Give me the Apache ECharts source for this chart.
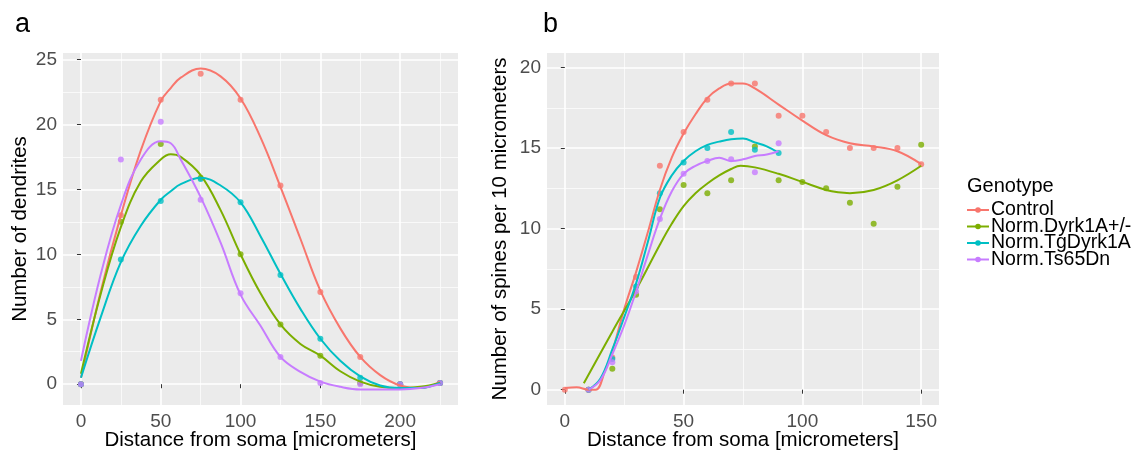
<!DOCTYPE html>
<html><head><meta charset="utf-8">
<script src="https://cdn.jsdelivr.net/npm/echarts@6/dist/echarts.min.js"></script>
<style>html,body{margin:0;padding:0;background:#fff}#c{width:1146px;height:453px}</style>
</head><body><div id="c"></div><script>
// ---------- shared ----------
const genotypes = ['Control', 'Norm.Dyrk1A+/-', 'Norm.TgDyrk1A', 'Norm.Ts65Dn'];
const colors = ['#F8766D', '#7CAE00', '#00BFC4', '#C77CFF'];

// ---------- panel a: number of dendrites ----------
const aPointX = [0, 25, 50, 75, 100, 125, 150, 175, 200, 225];
const aPtsControl = [0, 13.0, 21.9, 23.9, 21.9, 15.3, 7.1, 2.1, 0, 0.1];
const aPtsDyrk = [0, 12.5, 18.5, 15.9, 10.0, 4.6, 2.2, 0.1, 0, 0.1];
const aPtsTg = [0, 9.6, 14.1, 15.8, 14.0, 8.4, 3.5, 0.5, 0, 0.1];
const aPtsTs = [0, 17.3, 20.2, 14.2, 7.0, 2.1, 0.1, 0, 0, 0.1];

const aCurveX = [0, 12.5, 25, 37.5, 50, 56.25, 62.5, 75, 87.5, 100, 112.5, 125, 137.5, 150, 162.5, 175, 187.5, 200, 212.5, 225];
const aCurveControl = [0.5, 7.2, 13.0, 18.0, 21.8, 22.8, 23.6, 24.3, 23.7, 22.0, 19.0, 15.2, 11.2, 7.2, 4.3, 2.1, 0.7, -0.1, -0.3, 0.2];
const aCurveDyrk = [0.8, 7.0, 12.1, 15.6, 17.3, 17.7, 17.5, 16.1, 13.4, 10.0, 7.0, 4.6, 3.1, 2.2, 1.0, 0.2, -0.2, -0.3, -0.2, 0.1];
const aCurveTg = [0.5, 5.2, 9.4, 12.2, 14.2, 14.85, 15.4, 15.9, 15.3, 14.0, 11.4, 8.5, 5.8, 3.5, 1.8, 0.6, -0.1, -0.3, -0.3, 0.1];
const aCurveTs = [1.8, 8.5, 13.8, 17.3, 18.7, 18.55, 17.3, 14.4, 10.9, 6.9, 4.5, 2.1, 0.95, 0.2, -0.2, -0.4, -0.4, -0.4, -0.3, 0.0];

const aXTicks = [0, 50, 100, 150, 200];
const aXMinor = [25, 75, 125, 175, 225];
const aYTicks = [0, 5, 10, 15, 20, 25];
const aYMinor = [2.5, 7.5, 12.5, 17.5, 22.5];

// ---------- panel b: spines per 10 micrometers ----------
const bPointXControl = [0, 10, 20, 30, 40, 50, 60, 70, 80, 90, 100, 110, 120, 130, 140, 150];
const bPtsControl = [0, 0, 2.0, 7.0, 13.9, 16.0, 18.0, 19.0, 19.0, 17.0, 17.0, 16.0, 15.0, 15.0, 15.0, 14.0];
const bPointXDyrk = [10, 20, 30, 40, 50, 60, 70, 80, 90, 100, 110, 120, 130, 140, 150];
const bPtsDyrk = [0, 1.3, 5.9, 11.2, 12.7, 12.2, 13.0, 15.1, 13.0, 12.9, 12.5, 11.6, 10.3, 12.6, 15.2];
const bPointXShort = [10, 20, 30, 40, 50, 60, 70, 80, 90];
const bPtsTg = [0, 1.9, 6.4, 12.2, 14.1, 15.0, 16.0, 14.9, 14.7];
const bPtsTs = [0, 1.7, 6.1, 10.6, 13.4, 14.2, 14.3, 13.5, 15.3];

const bCurveXControl = [0, 5, 10, 13, 17, 20, 25, 30, 35, 40, 45, 50, 55, 60, 65, 70, 75, 80, 90, 100, 110, 120, 130, 140, 150];
const bCurveControl = [0.1, 0.15, 0.0, 0.0, 1.2, 2.4, 5.0, 7.3, 9.8, 12.4, 14.4, 15.9, 17.1, 18.1, 18.7, 19.0, 19.0, 18.7, 17.7, 16.7, 15.8, 15.3, 15.1, 14.8, 14.0];
const bCurveXDyrk = [8, 20, 30, 40, 45, 50, 55, 60, 65, 70, 74, 80, 90, 100, 110, 115, 120, 130, 140, 150];
const bCurveDyrk = [0.4, 3.6, 6.2, 9.0, 10.3, 11.4, 12.2, 12.8, 13.3, 13.7, 13.9, 13.8, 13.4, 12.9, 12.4, 12.25, 12.2, 12.4, 13.0, 13.9];
const bCurveXShort = [10, 15, 20, 25, 30, 35, 40, 45, 50, 55, 60, 65, 70, 75, 80, 85, 90];
const bCurveTg = [0.0, 0.7, 2.5, 4.5, 6.6, 9.2, 11.9, 13.3, 14.2, 14.8, 15.2, 15.4, 15.55, 15.6, 15.35, 15.1, 14.7];
const bCurveTs = [0.0, 0.6, 2.2, 4.0, 6.1, 8.4, 10.6, 12.3, 13.4, 13.9, 14.2, 14.4, 14.2, 14.3, 14.5, 14.6, 14.8];

const bXTicks = [0, 50, 100, 150];
const bXMinor = [25, 75, 125];
const bYTicks = [0, 5, 10, 15, 20];
const bYMinor = [2.5, 7.5, 12.5, 17.5];

// ---------- build ----------
const pair = (xs, ys) => xs.map((x, i) => [x, ys[i]]);
const FONT = 'Liberation Sans';

function majorAxis(gridIndex, min, max, ticks, name, nameGap, isY) {
  return {
    type: 'value', gridIndex, min, max,
    name, nameLocation: 'middle', nameGap, nameMoveOverlap: false,
    nameTextStyle: { fontFamily: FONT, fontSize: 20.5, color: '#000' },
    axisLine: { show: false },
    axisTick: { show: true, length: 4, lineStyle: { color: '#333', width: 1 }, customValues: ticks },
    axisLabel: { show: true, customValues: ticks, fontFamily: FONT, fontSize: 19, color: '#4D4D4D', margin: isY ? 6 : 7 },
    splitLine: { show: true, lineStyle: { color: '#FFFFFF', width: 1.6 } },
    z: 1
  };
}
function minorAxis(gridIndex, min, max, ticks) {
  return {
    type: 'value', gridIndex, min, max,
    axisLine: { show: false },
    axisTick: { show: false, customValues: ticks },
    axisLabel: { show: false, customValues: ticks },
    splitLine: { show: true, lineStyle: { color: '#FAFAFA', width: 0.9 } },
    z: 0
  };
}

const series = [];
function addPanel(xi, yi, curveXs, curveYs, ptXs, ptYs) {
  for (let k = 0; k < 4; k++) {
    series.push({
      type: 'line', name: genotypes[k], xAxisIndex: xi, yAxisIndex: yi,
      data: pair(curveXs[k], curveYs[k]),
      smooth: 0.4,
      showSymbol: false, symbol: 'circle', symbolSize: 6,
      lineStyle: { color: colors[k], width: 2 },
      itemStyle: { color: colors[k] },
      z: 3, silent: true
    });
  }
  for (let k = 0; k < 4; k++) {
    series.push({
      type: 'scatter', name: genotypes[k], xAxisIndex: xi, yAxisIndex: yi,
      data: pair(ptXs[k], ptYs[k]),
      symbol: 'circle', symbolSize: 6,
      itemStyle: { color: colors[k] },
      z: 2, silent: true
    });
  }
}
addPanel(0, 0,
  [aCurveX, aCurveX, aCurveX, aCurveX],
  [aCurveControl, aCurveDyrk, aCurveTg, aCurveTs],
  [aPointX, aPointX, aPointX, aPointX],
  [aPtsControl, aPtsDyrk, aPtsTg, aPtsTs]);
addPanel(2, 2,
  [bCurveXControl, bCurveXDyrk, bCurveXShort, bCurveXShort],
  [bCurveControl, bCurveDyrk, bCurveTg, bCurveTs],
  [bPointXControl, bPointXDyrk, bPointXShort, bPointXShort],
  [bPtsControl, bPtsDyrk, bPtsTg, bPtsTs]);

const option = {
  animation: false,
  backgroundColor: '#FFFFFF',
  title: [
    { text: 'a', left: 10, top: 6, textStyle: { fontFamily: FONT, fontSize: 27, fontWeight: 'normal', color: '#000' } },
    { text: 'b', left: 538, top: 6, textStyle: { fontFamily: FONT, fontSize: 27, fontWeight: 'normal', color: '#000' } },
    { text: 'Genotype', left: 962, top: 171, textStyle: { fontFamily: FONT, fontSize: 20, fontWeight: 'normal', color: '#000' } }
  ],
  legend: {
    data: genotypes, orient: 'vertical', left: 961, top: 195,
    itemWidth: 22, itemHeight: 7, itemGap: -3.5,
    textStyle: { fontFamily: FONT, fontSize: 19.5, color: '#000', padding: [0, 0, 0, -3] },
    selectedMode: false
  },
  grid: [
    { left: 63, top: 53, width: 395, height: 352, show: true, backgroundColor: '#EBEBEB', borderWidth: 0, outerBoundsMode: 'none', containLabel: false },
    { left: 547, top: 53, width: 392, height: 352, show: true, backgroundColor: '#EBEBEB', borderWidth: 0, outerBoundsMode: 'none', containLabel: false }
  ],
  xAxis: [
    majorAxis(0, -11.25, 236.25, aXTicks, 'Distance from soma [micrometers]', 25, false),
    minorAxis(0, -11.25, 236.25, aXMinor),
    majorAxis(1, -7.5, 157.5, bXTicks, 'Distance from soma [micrometers]', 25, false),
    minorAxis(1, -7.5, 157.5, bXMinor)
  ],
  yAxis: [
    majorAxis(0, -1.6, 25.5, aYTicks, 'Number of dendrites', 32, true),
    minorAxis(0, -1.6, 25.5, aYMinor),
    majorAxis(1, -0.95, 20.9, bYTicks, 'Number of spines per 10 micrometers', 36, true),
    minorAxis(1, -0.95, 20.9, bYMinor)
  ],
  series
};
const chart = echarts.init(document.getElementById('c'), null, { renderer: 'canvas' });
chart.setOption(option);
</script></body></html>
